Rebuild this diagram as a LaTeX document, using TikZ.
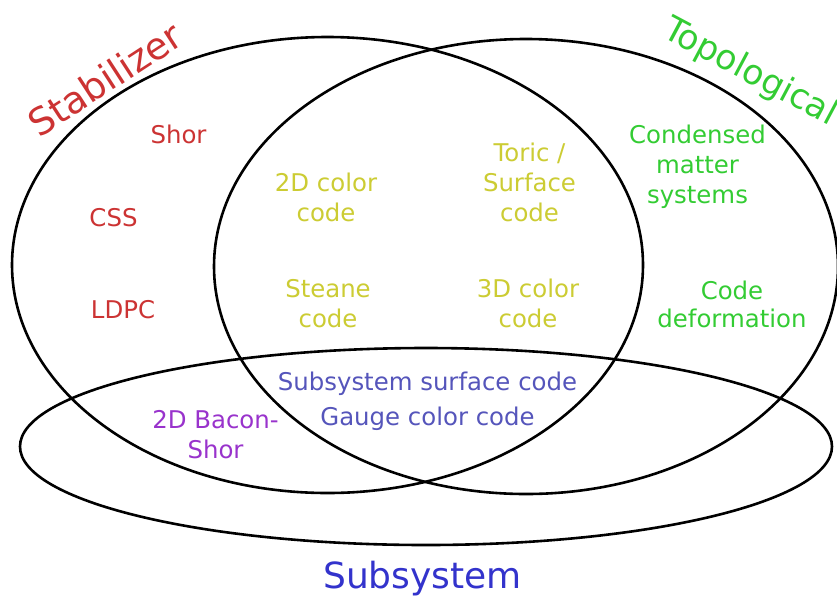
\documentclass[tikz,border=0pt]{standalone}
\usepackage{fontspec}
\setmainfont{DejaVu Sans}
\definecolor{stabred}{RGB}{204,51,51}
\definecolor{topogreen}{RGB}{51,204,51}
\definecolor{bothyellow}{RGB}{204,204,51}
\definecolor{gaugeblue}{RGB}{85,85,187}
\definecolor{subblue}{RGB}{51,51,204}
\definecolor{baconpurple}{RGB}{153,51,204}
\begin{document}
\begin{tikzpicture}[x=1pt,y=-1pt,
  setline/.style={draw=black,line width=2.6pt},
  item/.style={font=\fontsize{24.4}{30}\selectfont,align=center,anchor=base,inner sep=0pt},
  title/.style={font=\fontsize{37.5}{44}\selectfont,inner sep=0pt}]
\useasboundingbox[fill=white] (0,0) rectangle (837,595);

% the three sets
\draw[setline] (327.5,265) ellipse [x radius=315.5pt, y radius=228pt];
\draw[setline] (526,266.5) ellipse [x radius=312pt, y radius=227.5pt];
\draw[setline] (426,446.5) ellipse [x radius=406pt, y radius=98.5pt];

% set titles
\node[title,text=stabred,rotate=33] (stab) at (105,79) {Stabilizer};
\node[title,font=\fontsize{34.5}{40}\selectfont,text=topogreen,rotate=-28] (topo) at (750,73) {Topological};
\node[font=\fontsize{36}{42}\selectfont,inner sep=0pt,anchor=base,text=subblue] (subsys) at (422.5,588) {Subsystem};

% stabilizer only (anchors sit on the last baseline)
\node[item,text=stabred] (shor) at (178.5,143) {Shor};
\node[item,text=stabred] (css) at (113.5,226) {CSS};
\node[item,text=stabred] (ldpc) at (123,318) {LDPC};

% stabilizer and topological
\node[item,text=bothyellow] (color2d) at (326,221) {2D color\\code};
\node[item,text=bothyellow] (toric) at (529.5,221) {Toric /\\Surface\\code};
\node[item,text=bothyellow] (steane) at (328,327) {Steane\\code};
\node[item,text=bothyellow] (color3d) at (528,327) {3D color\\code};

% topological only
\node[item,text=topogreen] (condensed) at (697.5,203) {Condensed\\matter\\systems};
\node[item,text=topogreen,font=\fontsize{24.4}{27.5}\selectfont] (deform) at (732,327) {Code\\deformation};

% subsystem overlaps
\node[item,text=gaugeblue] (subsurf) at (427.5,390) {Subsystem surface code};
\node[item,text=gaugeblue] (gauge) at (427.5,425) {Gauge color code};
\node[item,text=baconpurple] (bacon) at (215.5,458) {2D Bacon-\\Shor};
\end{tikzpicture}
\end{document}
